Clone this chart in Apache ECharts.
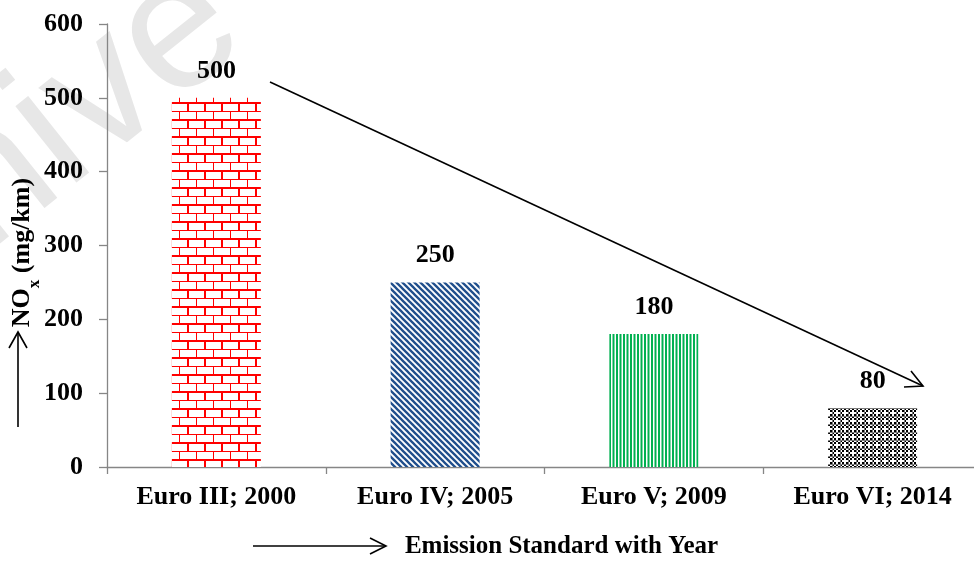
<!DOCTYPE html>
<html>
<head>
<meta charset="utf-8">
<title>NOx limits by emission standard</title>
<script src="https://cdn.jsdelivr.net/npm/echarts@6/dist/echarts.min.js"></script>
<style>
  html, body { margin: 0; padding: 0; background: #fff; }
  #chart { width: 974px; height: 568px; }
</style>
</head>
<body>
<div id="chart"></div>
<script>
// Emission standards and their NOx limits (mg/km)
const categories = ['Euro III; 2000', 'Euro IV; 2005', 'Euro V; 2009', 'Euro VI; 2014'];
const noxValues = [500, 250, 180, 80];
const yMin = 0;
const yMax = 600;
const yStep = 100;

const SERIF = '"Liberation Serif", "Times New Roman", serif';
const AXIS_GREY = '#868686';

// Small repeating canvas tiles used as bar fills
function makeTile(w, h, draw) {
  const c = document.createElement('canvas');
  c.width = w; c.height = h;
  const g = c.getContext('2d');
  g.fillStyle = '#ffffff';
  g.fillRect(0, 0, w, h);
  draw(g, w, h);
  return c;
}

const brickTile = makeTile(17, 17, (g) => {
  g.fillStyle = '#ff0000';
  g.fillRect(0, 0, 17, 2);    // heavy mortar line
  g.fillRect(0, 2, 2, 7);     // heavy joint
  g.fillRect(0, 9, 17, 1);    // light mortar line
  g.fillRect(9, 10, 1, 7);    // light joint
});

const diagTile = makeTile(6, 6, (g) => {
  g.strokeStyle = '#1f4e8c';
  g.lineWidth = 2.3;
  for (let c = -6; c <= 6; c += 6) {
    g.beginPath();
    g.moveTo(-1, c - 1);
    g.lineTo(7, c + 7);
    g.stroke();
  }
});

const stripeTile = makeTile(7, 4, (g) => {
  g.fillStyle = '#00b050';
  g.fillRect(0, 0, 2, 4);
  g.fillRect(3.5, 0, 2, 4);
});

const checkTile = makeTile(8, 8, (g) => {
  g.fillStyle = '#000000';
  for (let y = 0; y < 8; y += 2) {
    for (let x = 0; x < 8; x += 2) {
      if (((x + y) / 2) % 2 === 0) g.fillRect(x, y, 2, 2);
    }
  }
  g.fillStyle = '#7a7a7a';
  g.fillRect(0, 0, 8, 1);
  g.fillRect(0, 0, 1, 8);
  g.fillStyle = '#ffffff';
  g.fillRect(4, 4, 2, 2);
});

const fills = [brickTile, diagTile, stripeTile, checkTile];

const chart = echarts.init(document.getElementById('chart'), null, { renderer: 'canvas' });

const option = {
  backgroundColor: '#ffffff',
  animation: false,
  grid: { left: 107, right: -8, top: 24, bottom: 101, containLabel: false, outerBoundsMode: 'none' },
  xAxis: {
    type: 'category',
    data: categories,
    name: 'Emission Standard with Year',
    nameLocation: 'middle',
    nameGap: 67,
    nameMoveOverlap: false,
    nameTextStyle: {
      fontFamily: SERIF, fontWeight: 'bold', fontSize: 25, color: '#000',
      padding: [0, 0, 0, 34]
    },
    axisLine: { lineStyle: { color: AXIS_GREY, width: 1.3 } },
    axisTick: { show: true, length: 7, lineStyle: { color: AXIS_GREY, width: 1.3 } },
    axisLabel: {
      fontFamily: SERIF, fontWeight: 'bold', fontSize: 26, color: '#000', margin: 17
    },
    splitLine: { show: false }
  },
  yAxis: {
    type: 'value',
    min: yMin,
    max: yMax,
    interval: yStep,
    name: '{a|NO}{b|x}{a| (mg/km)}',
    nameLocation: 'middle',
    nameRotate: 90,
    nameGap: 70,
    nameMoveOverlap: false,
    nameTextStyle: {
      padding: [0, 14, 0, 0],
      rich: {
        a: { fontFamily: SERIF, fontWeight: 'bold', fontSize: 26, color: '#000', lineHeight: 30 },
        b: { fontFamily: SERIF, fontWeight: 'bold', fontSize: 17, color: '#000', lineHeight: 30,
             verticalAlign: 'bottom', padding: [0, 0, -6, 0] }
      }
    },
    axisLine: { show: true, lineStyle: { color: AXIS_GREY, width: 1.3 } },
    axisTick: { show: true, length: 8, lineStyle: { color: AXIS_GREY, width: 1.3 } },
    axisLabel: {
      fontFamily: SERIF, fontWeight: 'bold', fontSize: 26, color: '#000', margin: 24
    },
    splitLine: { show: false }
  },
  series: [{
    type: 'bar',
    z: 3,
    barWidth: 89,
    data: noxValues.map((v, i) => ({
      value: v,
      itemStyle: { color: { image: fills[i], repeat: 'repeat' } }
    })),
    label: {
      show: true,
      position: 'top',
      distance: 14,
      fontFamily: SERIF, fontWeight: 'bold', fontSize: 26, color: '#000'
    }
  }],
  graphic: [
    // faint watermark lettering behind the plot
    {
      type: 'text', z: -10, silent: true,
      x: -150, y: 298, rotation: 38.6 * Math.PI / 180,
      style: {
        text: 'Unive', fill: '#e7e7e7',
        font: '185px "Liberation Sans", Arial, sans-serif',
        verticalAlign: 'middle'
      }
    },
    // upward arrow beside the y-axis title
    { type: 'line', z: 5, shape: { x1: 18, y1: 427, x2: 18, y2: 333 }, style: { stroke: '#000', lineWidth: 1.6 } },
    { type: 'polyline', z: 5, shape: { points: [[9, 348], [18, 332], [27, 348]] }, style: { stroke: '#000', lineWidth: 1.6, fill: null } },
    // rightward arrow before the x-axis title
    { type: 'line', z: 5, shape: { x1: 253, y1: 546, x2: 385, y2: 546 }, style: { stroke: '#000', lineWidth: 1.6 } },
    { type: 'polyline', z: 5, shape: { points: [[370, 538], [386, 546], [370, 554]] }, style: { stroke: '#000', lineWidth: 1.6, fill: null } },
    // downward trend arrow across the bars
    { type: 'line', z: 5, shape: { x1: 270, y1: 82, x2: 923, y2: 386 }, style: { stroke: '#000', lineWidth: 1.6 } },
    { type: 'polyline', z: 5, shape: { points: [[911, 371], [923, 386], [904, 387]] }, style: { stroke: '#000', lineWidth: 1.6, fill: null } }
  ]
};

chart.setOption(option);
</script>
</body>
</html>
